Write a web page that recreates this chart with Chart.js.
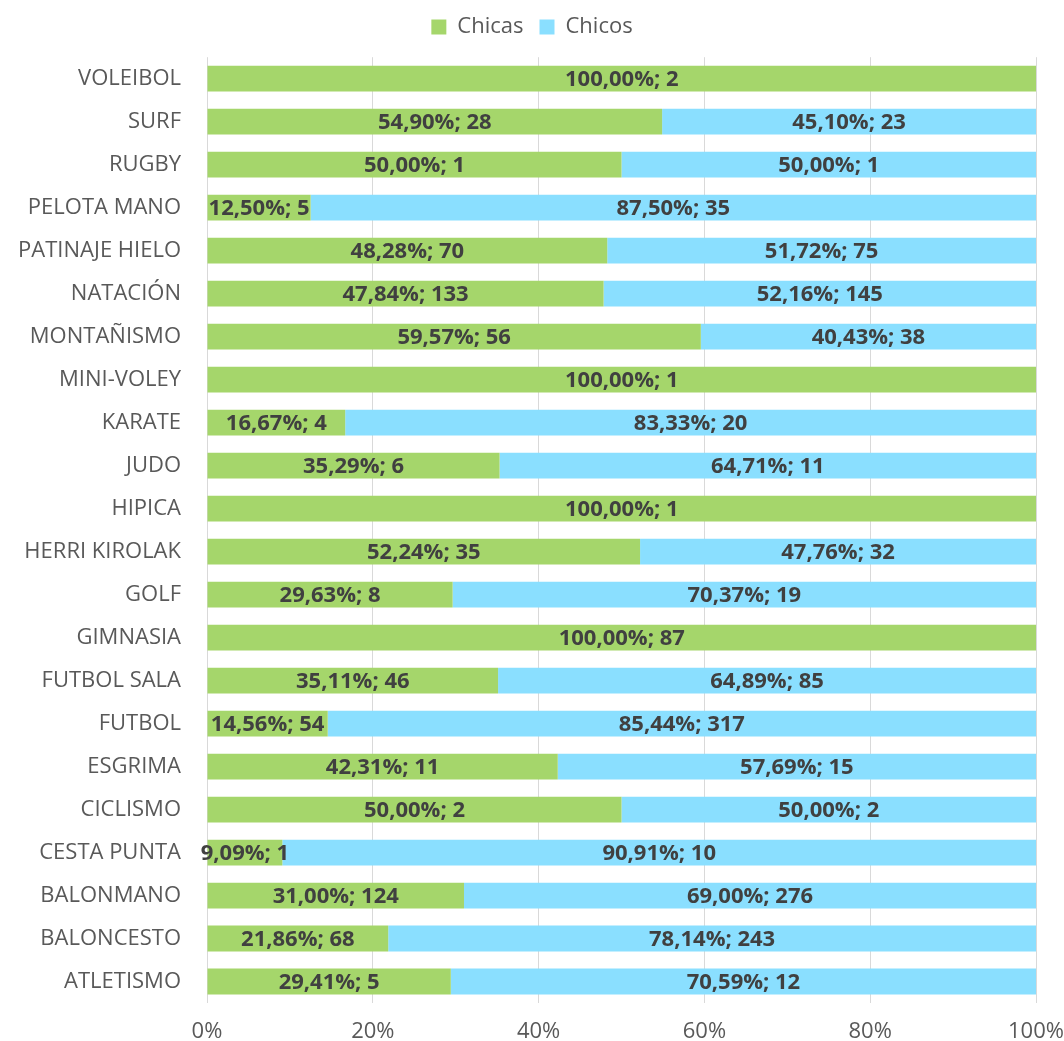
<!DOCTYPE html>
<html>
<head>
<meta charset="utf-8">
<script src="https://cdn.jsdelivr.net/npm/chart.js@4/dist/chart.umd.min.js"></script>
<style>
  html, body { margin: 0; padding: 0; background: #fff; }
  #wrap { width: 1064px; height: 1041px; }
</style>
</head>
<body>
<div id="wrap"><canvas id="chart"></canvas></div>
<script>
var sports = ['VOLEIBOL', 'SURF', 'RUGBY', 'PELOTA MANO', 'PATINAJE HIELO', 'NATACIÓN', 'MONTAÑISMO',
  'MINI-VOLEY', 'KARATE', 'JUDO', 'HIPICA', 'HERRI KIROLAK', 'GOLF', 'GIMNASIA', 'FUTBOL SALA',
  'FUTBOL', 'ESGRIMA', 'CICLISMO', 'CESTA PUNTA', 'BALONMANO', 'BALONCESTO', 'ATLETISMO'];

var chicasPct = [100, 54.90, 50, 12.50, 48.28, 47.84, 59.57, 100, 16.67, 35.29, 100, 52.24, 29.63, 100,
  35.11, 14.56, 42.31, 50, 9.09, 31.00, 21.86, 29.41];
var chicasNum = [2, 28, 1, 5, 70, 133, 56, 1, 4, 6, 1, 35, 8, 87, 46, 54, 11, 2, 1, 124, 68, 5];

var chicosPct = [null, 45.10, 50, 87.50, 51.72, 52.16, 40.43, null, 83.33, 64.71, null, 47.76, 70.37, null,
  64.89, 85.44, 57.69, 50, 90.91, 69.00, 78.14, 70.59];
var chicosNum = [null, 23, 1, 35, 75, 145, 38, null, 20, 11, null, 32, 19, null, 85, 317, 15, 2, 10, 276, 243, 12];

var xTicks = [0, 20, 40, 60, 80, 100];

var FONT = "'Open Sans', 'Noto Sans', sans-serif";

// labels like "54,90%; 28" in the middle of each piece
var barLabels = {
  id: 'barLabels',
  afterDatasetsDraw: function(chart) {
    var ctx = chart.ctx;
    ctx.save();
    ctx.font = 'bold 22px ' + FONT;
    ctx.fillStyle = '#404040';
    ctx.textAlign = 'center';
    ctx.textBaseline = 'middle';
    chart.data.datasets.forEach(function(ds, di) {
      var meta = chart.getDatasetMeta(di);
      meta.data.forEach(function(bar, i) {
        var v = ds.data[i];
        if (v == null) return;
        var txt = v.toFixed(2).replace('.', ',') + '%; ' + ds.counts[i];
        ctx.fillText(txt, (bar.x + bar.base) / 2, bar.y + 1);
      });
    });
    ctx.restore();
  }
};

var ctx = document.getElementById('chart').getContext('2d');
var chart = new Chart(ctx, {
  type: 'bar',
  data: {
    labels: sports,
    datasets: [
      { label: 'Chicas', data: chicasPct, counts: chicasNum, backgroundColor: '#a5d66b', borderWidth: 0 },
      { label: 'Chicos', data: chicosPct, counts: chicosNum, backgroundColor: '#8adfff', borderWidth: 0 }
    ]
  },
  options: {
    indexAxis: 'y',
    responsive: true,
    maintainAspectRatio: false,
    animation: false,
    layout: { padding: 0 },
    datasets: { bar: { barPercentage: 0.6, categoryPercentage: 1 } },
    plugins: {
      legend: {
        position: 'top',
        labels: {
          font: { family: FONT, size: 22 },
          color: '#595959',
          boxWidth: 15,
          boxHeight: 15,
          padding: 16
        }
      },
      // empty spacer between legend and plot
      title: {
        display: true,
        text: '',
        weight: 500,
        font: { size: 1 },
        padding: { top: 8, bottom: 0 }
      },
      tooltip: { enabled: false }
    },
    scales: {
      x: {
        stacked: true,
        min: 0,
        max: 100,
        afterBuildTicks: function(scale) {
          scale.ticks = xTicks.map(function(v) { return { value: v }; });
        },
        afterFit: function(scale) {
          scale.height = 38;
          scale.paddingLeft = 0;
          scale.paddingRight = 28;
        },
        grid: { color: '#d9d9d9', lineWidth: 1, drawTicks: false },
        border: { display: false },
        ticks: {
          font: { family: FONT, size: 22 },
          color: '#595959',
          padding: 16,
          callback: function(v) { return v + '%'; }
        }
      },
      y: {
        stacked: true,
        afterFit: function(scale) { scale.width = 207; },
        grid: { display: false },
        border: { display: false },
        ticks: {
          font: { family: FONT, size: 22 },
          color: '#595959',
          padding: 18
        }
      }
    }
  },
  plugins: [barLabels]
});
</script>
</body>
</html>
